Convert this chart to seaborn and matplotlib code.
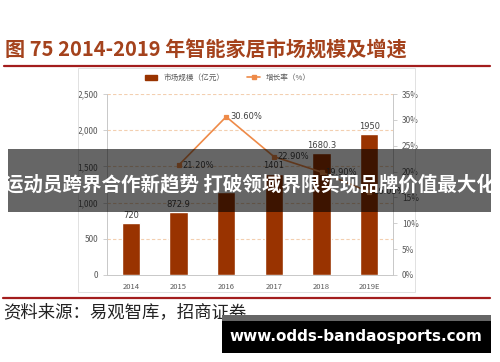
import numpy as np
import pandas as pd
import matplotlib
matplotlib.use('Agg')
import matplotlib.pyplot as plt
import seaborn as sns
from matplotlib.lines import Line2D
from matplotlib.patches import Rectangle, Patch
from matplotlib.ticker import FuncFormatter

# data
years = ['2014', '2015', '2016', '2017', '2018', '2019E']
market_size = [720, 872.9, 1140, 1401, 1680.3, 1950]
growth_years = ['2015', '2016', '2017', '2018', '2019E']
growth_rate = [21.2, 30.6, 22.9, 19.9, 16.05]
growth_labels = ['21.20%', '30.60%', '22.90%', '19.90%', '16.05%']
size_labels = ['720', '872.9', '', '1401', '1680.3', '1950']

sns.set_style('white')
plt.rcParams['font.family'] = ['Noto Sans CJK SC', 'DejaVu Sans']

bar_color = '#993300'
line_color = '#ee8a48'
grid_color = '#f3cfb0'
spine_color = '#c8c8c8'
tick_color = '#595959'

W, H = 500, 362
fig = plt.figure(figsize=(5, 3.62), dpi=100)

def fx(x):
    return x / W

def fy(y):
    return 1 - y / H

ax = fig.add_axes([fx(107), fy(275), fx(393) - fx(107), fy(94) - fy(275)])
df = pd.DataFrame({'year': years, 'size': market_size})
sns.barplot(data=df, x='year', y='size', order=years, color=bar_color,
            width=0.38, saturation=1, ax=ax, zorder=3)
ax.set_ylim(0, 2500)
ax.set_yticks(np.arange(0, 2501, 500))
ax.yaxis.set_major_formatter(FuncFormatter(lambda v, p: f'{int(v):,}'))
ax.set_xlim(-0.5, len(years) - 0.5)
ax.set_xlabel('')
ax.set_ylabel('')
for v in np.arange(500, 2501, 500):
    ax.axhline(v, color=grid_color, lw=0.8, ls=(0, (3, 2)), zorder=1)

for i, (v, lab) in enumerate(zip(market_size, size_labels)):
    if lab:
        ax.text(i, v + 45, lab, ha='center', va='bottom', fontsize=6,
                color='#404040', family='DejaVu Sans', zorder=5)

# category boundary ticks on the x axis
ax.set_xticks(np.arange(len(years)))
ax.set_xticklabels(years)
ax.set_xticks(np.arange(-0.5, len(years)), minor=True)
ax.tick_params(axis='x', which='major', length=0, labelsize=5.5,
               colors=tick_color, pad=6)
ax.tick_params(axis='x', which='minor', length=3, color=spine_color, width=0.6)
ax.tick_params(axis='y', length=3, color=spine_color, width=0.6,
               labelsize=6, labelcolor=tick_color)

ax2 = ax.twinx()
sns.pointplot(x=growth_years, y=growth_rate, order=years, color=line_color,
              markers='s', markersize=3, linewidth=1.2, ax=ax2, errorbar=None)
ax2.set_ylim(0, 35)
ax2.set_xlim(-0.5, len(years) - 0.5)
ax2.set_yticks(np.arange(0, 36, 5))
ax2.yaxis.set_major_formatter(FuncFormatter(lambda v, p: f'{int(v)}%'))
ax2.tick_params(axis='y', length=3, color=spine_color, width=0.6,
                labelsize=6, labelcolor=tick_color)
ax2.set_ylabel('')
for yr, v, lab in zip(growth_years, growth_rate, growth_labels):
    ax2.text(years.index(yr) + 0.08, v, lab, ha='left', va='center',
             fontsize=6, color='#404040', family='DejaVu Sans', zorder=6)

for a in (ax, ax2):
    for side in ('left', 'right', 'bottom'):
        a.spines[side].set_color(spine_color)
        a.spines[side].set_linewidth(0.7)
    a.spines['top'].set_visible(False)
ax.spines['right'].set_visible(False)
ax2.spines['left'].set_visible(False)
ax2.spines['bottom'].set_visible(False)

# legend
handles = [Patch(facecolor=bar_color, edgecolor=bar_color),
           Line2D([0], [0], color=line_color, lw=1.2, marker='s', markersize=3)]
fig.legend(handles, ['市场规模（亿元）', '增长率（%）'], loc='center',
           bbox_to_anchor=(fx(228), fy(78)), ncol=2, frameon=False,
           fontsize=5.5, handlelength=1.6, handleheight=0.6, columnspacing=3,
           labelcolor='#595959')

# chart frame
fig.add_artist(Rectangle((fx(78), fy(292)), fx(415) - fx(78), fy(68) - fy(292),
                         transform=fig.transFigure, fill=False,
                         edgecolor='#dcdcdc', lw=0.6))

# title and rules
fig.text(fx(5), fy(50), '图 75 2014-2019 年智能家居市场规模及增速', fontsize=14.5,
         fontweight='bold', color='#a4421c', ha='left', va='center')
fig.add_artist(Line2D([fx(4), fx(490)], [fy(66), fy(66)], color='#a31d1d', lw=1.6))
fig.add_artist(Line2D([fx(3), fx(490)], [fy(298), fy(298)], color='#a31d1d', lw=1.6))
fig.text(fx(3), fy(312), '资料来源：易观智库，招商证券', fontsize=12.5,
         color='#222222', ha='left', va='center')

# overlay band with headline
fig.add_artist(Rectangle((fx(8), fy(212)), fx(491) - fx(8), fy(149) - fy(212),
                         transform=fig.transFigure, facecolor='black',
                         alpha=0.6, edgecolor='none', zorder=10))
fig.text(fx(250), fy(184), '运动员跨界合作新趋势 打破领域界限实现品牌价值最大化',
         fontsize=14, fontweight='bold', color='white', ha='center',
         va='center', zorder=11)

# watermark box
fig.add_artist(Rectangle((fx(222), fy(321)), fx(491) - fx(222), fy(315) - fy(321),
                         transform=fig.transFigure, facecolor='#666666',
                         edgecolor='none', zorder=10))
fig.add_artist(Rectangle((fx(222), fy(353)), fx(491) - fx(222), fy(321) - fy(353),
                         transform=fig.transFigure, facecolor='black',
                         edgecolor='none', zorder=10))
fig.text(fx(356), fy(337), 'www.odds-bandaosports.com', fontsize=11,
         fontweight='bold', color='white', ha='center', va='center',
         family='DejaVu Sans', zorder=11)

fig.savefig('out.png', dpi=100)
